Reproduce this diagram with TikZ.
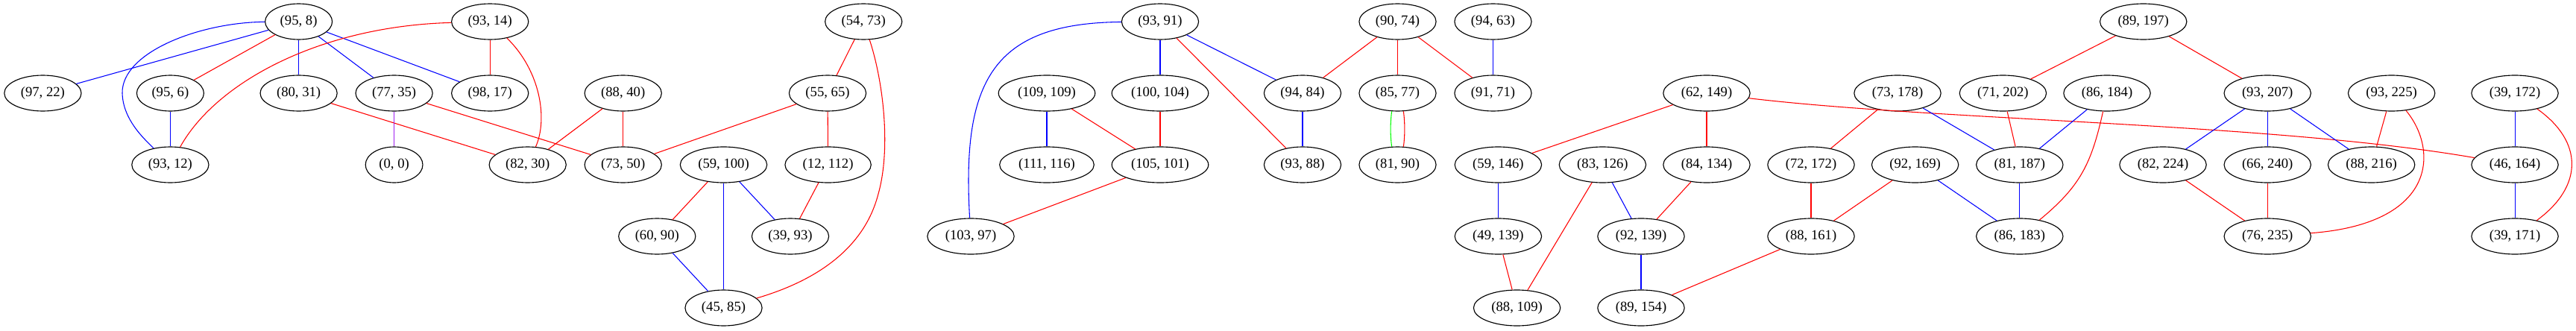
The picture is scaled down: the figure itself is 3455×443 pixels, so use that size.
\documentclass[tikz,border=0pt]{standalone}
\usepackage{fontspec}
\setmainfont{Liberation Serif}
\usetikzlibrary{shapes.geometric}
\definecolor{gvred}{RGB}{255,0,0}
\definecolor{gvblue}{RGB}{0,0,255}
\definecolor{gvgreen}{RGB}{0,255,0}
\definecolor{gvpurple}{HTML}{A020F0}
\tikzset{
  gnode/.style={draw=black, ellipse, line width=0.85pt, minimum height=36pt,
    inner xsep=5.2pt, inner ysep=2pt, font=\fontsize{14pt}{16pt}\selectfont},
  ered/.style={draw=gvred, line width=0.8pt},
  eblue/.style={draw=gvblue, line width=0.8pt},
  egreen/.style={draw=gvgreen, line width=0.8pt},
  epurple/.style={draw=gvpurple, line width=0.8pt}
}
\begin{document}
\begin{tikzpicture}[x=0.75pt,y=-0.75pt]
\useasboundingbox (0,0) rectangle (3455,443);
% row 1
\node[gnode] (n95x8)   at (400.6,29) {(95, 8)};
\node[gnode] (n93x14)  at (657.2,29) {(93, 14)};
\node[gnode] (n54x73)  at (1158.2,29) {(54, 73)};
\node[gnode] (n93x91)  at (1556,29) {(93, 91)};
\node[gnode] (n90x74)  at (1874.5,29) {(90, 74)};
\node[gnode] (n94x63)  at (2002.5,29) {(94, 63)};
\node[gnode] (n89x197) at (2874.7,29) {(89, 197)};
% row 2
\node[gnode] (n97x22)   at (57.4,125) {(97, 22)};
\node[gnode] (n95x6)    at (228.4,125) {(95, 6)};
\node[gnode] (n80x31)   at (400.6,125) {(80, 31)};
\node[gnode] (n77x35)   at (528.6,125) {(77, 35)};
\node[gnode] (n98x17)   at (657.2,125) {(98, 17)};
\node[gnode] (n88x40)   at (835.7,125) {(88, 40)};
\node[gnode] (n55x65)   at (1110,125) {(55, 65)};
\node[gnode] (n109x109) at (1404,125) {(109, 109)};
\node[gnode] (n100x104) at (1556,125) {(100, 104)};
\node[gnode] (n94x84)   at (1747,125) {(94, 84)};
\node[gnode] (n85x77)   at (1874.5,125) {(85, 77)};
\node[gnode] (n91x71)   at (2002.5,125) {(91, 71)};
\node[gnode] (n62x149)  at (2289,125) {(62, 149)};
\node[gnode] (n73x178)  at (2545,125) {(73, 178)};
\node[gnode] (n71x202)  at (2686.4,125) {(71, 202)};
\node[gnode] (n86x184)  at (2826,125) {(86, 184)};
\node[gnode] (n93x207)  at (3041.2,125) {(93, 207)};
\node[gnode] (n93x225)  at (3207.6,125) {(93, 225)};
\node[gnode] (n39x172)  at (3373,125) {(39, 172)};
% row 3
\node[gnode] (n93x12)   at (228.4,221) {(93, 12)};
\node[gnode] (n0x0)     at (528.6,221) {(0, 0)};
\node[gnode] (n82x30)   at (707.7,221) {(82, 30)};
\node[gnode] (n73x50)   at (835.7,221) {(73, 50)};
\node[gnode] (n59x100)  at (970.5,221) {(59, 100)};
\node[gnode] (n12x112)  at (1110.6,221) {(12, 112)};
\node[gnode] (n111x116) at (1404,221) {(111, 116)};
\node[gnode] (n105x101) at (1556,221) {(105, 101)};
\node[gnode] (n93x88)   at (1747,221) {(93, 88)};
\node[gnode] (n81x90)   at (1874.5,221) {(81, 90)};
\node[gnode] (n59x146)  at (2009.4,221) {(59, 146)};
\node[gnode] (n83x126)  at (2149.4,221) {(83, 126)};
\node[gnode] (n84x134)  at (2289,221) {(84, 134)};
\node[gnode] (n72x172)  at (2429,221) {(72, 172)};
\node[gnode] (n92x169)  at (2568.6,221) {(92, 169)};
\node[gnode] (n81x187)  at (2708.8,221) {(81, 187)};
\node[gnode] (n82x224)  at (2901,221) {(82, 224)};
\node[gnode] (n66x240)  at (3041.2,221) {(66, 240)};
\node[gnode] (n88x216)  at (3180.6,221) {(88, 216)};
\node[gnode] (n46x164)  at (3373,221) {(46, 164)};
% row 4
\node[gnode] (n60x90)   at (881.3,317) {(60, 90)};
\node[gnode] (n39x93)   at (1060,317) {(39, 93)};
\node[gnode] (n103x97)  at (1302,317) {(103, 97)};
\node[gnode] (n49x139)  at (2009.4,317) {(49, 139)};
\node[gnode] (n92x139)  at (2201,317) {(92, 139)};
\node[gnode] (n88x161)  at (2429,317) {(88, 161)};
\node[gnode] (n86x183)  at (2708.8,317) {(86, 183)};
\node[gnode] (n76x235)  at (3041.2,317) {(76, 235)};
\node[gnode] (n39x171)  at (3373,317) {(39, 171)};
% row 5
\node[gnode] (n45x85)   at (970.5,413) {(45, 85)};
\node[gnode] (n88x109)  at (2034.6,413) {(88, 109)};
\node[gnode] (n89x154)  at (2201,413) {(89, 154)};

% ---- component 1
\draw[eblue] (n95x8) -- (n97x22);
\draw[eblue] (n95x8) .. controls (268,30) and (163,70) .. (164,125) .. controls (165,160) and (192,185) .. (n93x12);
\draw[ered]  (n95x8) -- (n95x6);
\draw[eblue] (n95x8) -- (n80x31);
\draw[eblue] (n95x8) -- (n77x35);
\draw[eblue] (n95x8) -- (n98x17);
\draw[ered]  (n93x14) .. controls (430,35) and (290,110) .. (n93x12);
\draw[ered]  (n93x14) -- (n98x17);
\draw[ered]  (n93x14) .. controls (725,95) and (735,160) .. (n82x30);
\draw[eblue] (n95x6) -- (n93x12);
\draw[ered]  (n80x31) -- (n82x30);
\draw[epurple] (n77x35) -- (n0x0);
\draw[ered]  (n77x35) -- (n73x50);
\draw[ered]  (n88x40) -- (n82x30);
\draw[ered]  (n88x40) -- (n73x50);
\draw[ered]  (n55x65) -- (n73x50);
\draw[ered]  (n54x73) -- (n55x65);
\draw[ered]  (n54x73) .. controls (1185,110) and (1195,200) .. (1178,260) .. controls (1160,330) and (1100,375) .. (n45x85);
\draw[ered]  (n55x65) -- (n12x112);
\draw[ered]  (n59x100) -- (n60x90);
\draw[eblue] (n59x100) -- (n45x85);
\draw[eblue] (n59x100) -- (n39x93);
\draw[ered]  (n12x112) -- (n39x93);
\draw[eblue] (n60x90) -- (n45x85);
% ---- component 2
\draw[eblue] (n93x91) .. controls (1330,31) and (1290,110) .. (n103x97);
\draw[eblue] (n93x91) -- (n100x104);
\draw[eblue] (n93x91) -- (n94x84);
\draw[ered]  (n93x91) -- (n93x88);
\draw[eblue] (n109x109) -- (n111x116);
\draw[ered]  (n109x109) -- (n105x101);
\draw[ered]  (n100x104) -- (n105x101);
\draw[ered]  (n105x101) -- (n103x97);
\draw[eblue] (n94x84) -- (n93x88);
\draw[ered]  (n90x74) -- (n94x84);
\draw[ered]  (n90x74) -- (n85x77);
\draw[ered]  (n90x74) -- (n91x71);
\draw[eblue] (n94x63) -- (n91x71);
\draw[egreen] (n85x77.252) .. controls (1864.6,165) and (1864.6,182) .. (n81x90.108);
\draw[ered]   (n85x77.288) .. controls (1884.4,165) and (1884.4,182) .. (n81x90.72);
% ---- component 3
\draw[ered]  (n62x149) -- (n59x146);
\draw[ered]  (n62x149) -- (n84x134);
\draw[ered]  (n62x149) .. controls (2600,162) and (3050,165) .. (n46x164);
\draw[eblue] (n59x146) -- (n49x139);
\draw[ered]  (n49x139) -- (n88x109);
\draw[ered]  (n83x126) -- (n88x109);
\draw[eblue] (n83x126) -- (n92x139);
\draw[ered]  (n84x134) -- (n92x139);
\draw[eblue] (n92x139) -- (n89x154);
\draw[ered]  (n88x161) -- (n89x154);
\draw[ered]  (n73x178) -- (n72x172);
\draw[eblue] (n73x178) -- (n81x187);
\draw[ered]  (n72x172) -- (n88x161);
\draw[ered]  (n92x169) -- (n88x161);
\draw[eblue] (n92x169) -- (n86x183);
\draw[ered]  (n71x202) -- (n81x187);
\draw[eblue] (n86x184) -- (n81x187);
\draw[ered]  (n86x184) .. controls (2805,220) and (2790,250) .. (n86x183);
\draw[eblue] (n81x187) -- (n86x183);
\draw[ered]  (n89x197) -- (n71x202);
\draw[ered]  (n89x197) -- (n93x207);
\draw[eblue] (n93x207) -- (n82x224);
\draw[eblue] (n93x207) -- (n66x240);
\draw[eblue] (n93x207) -- (n88x216);
\draw[ered]  (n93x225) -- (n88x216);
\draw[ered]  (n93x225) .. controls (3270,200) and (3270,300) .. (n76x235);
\draw[ered]  (n82x224) -- (n76x235);
\draw[ered]  (n66x240) -- (n76x235);
\draw[eblue] (n39x172) -- (n46x164);
\draw[ered]  (n39x172) .. controls (3465,190) and (3465,250) .. (n39x171);
\draw[eblue] (n46x164) -- (n39x171);
\end{tikzpicture}
\end{document}
